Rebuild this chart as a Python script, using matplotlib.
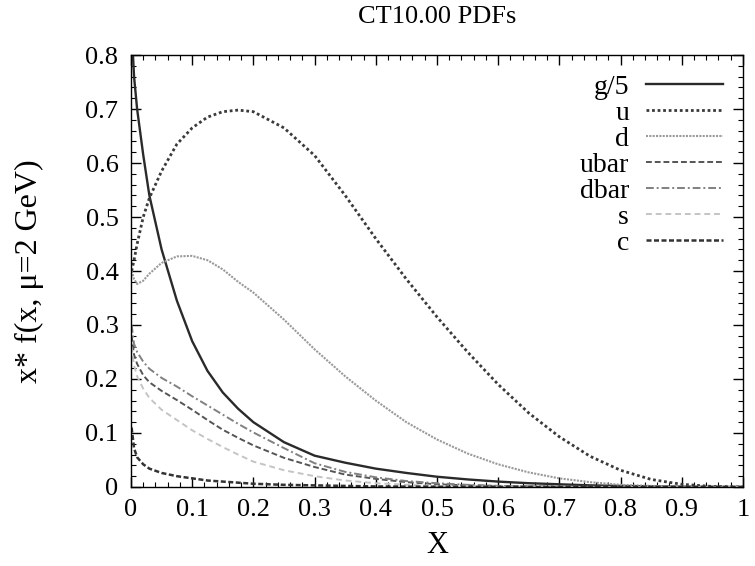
import matplotlib
matplotlib.use("Agg")
import matplotlib.pyplot as plt
from matplotlib.ticker import MultipleLocator

plt.rcParams['font.family'] = ['Liberation Serif', 'DejaVu Serif']

x = [0.001, 0.005, 0.01, 0.02, 0.03, 0.05, 0.075, 0.1, 0.125, 0.15, 0.175, 0.2,
     0.25, 0.3, 0.35, 0.4, 0.45, 0.5, 0.55, 0.6, 0.65, 0.7, 0.75, 0.8, 0.85,
     0.9, 0.95, 1.0]

g5 = [0.85, 0.76, 0.70, 0.615, 0.54, 0.44, 0.345, 0.27, 0.215, 0.175, 0.145, 0.12,
      0.083, 0.058, 0.045, 0.034, 0.026, 0.019, 0.014, 0.010, 0.007, 0.005, 0.003,
      0.002, 0.001, 0.0005, 0.0001, 0.0]
u = [0.40, 0.42, 0.45, 0.50, 0.535, 0.585, 0.635, 0.665, 0.685, 0.695, 0.698, 0.695,
     0.665, 0.614, 0.54, 0.46, 0.385, 0.315, 0.25, 0.19, 0.137, 0.093, 0.057,
     0.031, 0.014, 0.005, 0.001, 0.0]
d = [0.40, 0.385, 0.376, 0.382, 0.395, 0.415, 0.427, 0.428, 0.42, 0.403, 0.38, 0.36,
     0.31, 0.255, 0.205, 0.16, 0.12, 0.088, 0.062, 0.042, 0.027, 0.016, 0.009,
     0.004, 0.002, 0.0005, 0.0001, 0.0]
ubar = [0.28, 0.245, 0.228, 0.207, 0.194, 0.178, 0.161, 0.143, 0.124, 0.106, 0.091, 0.077,
        0.054, 0.037, 0.023, 0.015, 0.009, 0.005, 0.003, 0.002, 0.001, 0.0007, 0.0004,
        0.0002, 0.0001, 0.0, 0.0, 0.0]
dbar = [0.30, 0.265, 0.25, 0.232, 0.219, 0.202, 0.186, 0.168, 0.151, 0.134, 0.117, 0.101,
        0.072, 0.044, 0.028, 0.018, 0.011, 0.007, 0.004, 0.002, 0.0012, 0.0008, 0.0004,
        0.0002, 0.0001, 0.0, 0.0, 0.0]
s = [0.26, 0.225, 0.205, 0.182, 0.165, 0.143, 0.124, 0.105, 0.089, 0.074, 0.060, 0.047,
     0.031, 0.020, 0.012, 0.007, 0.004, 0.002, 0.001, 0.0006, 0.0003, 0.0002, 0.0001,
     0.0, 0.0, 0.0, 0.0, 0.0]
c = [0.11, 0.072, 0.055, 0.042, 0.034, 0.026, 0.020, 0.016, 0.012, 0.010, 0.008, 0.006,
     0.004, 0.003, 0.002, 0.001, 0.0007, 0.0005, 0.0003, 0.0002, 0.0001, 0.0, 0.0,
     0.0, 0.0, 0.0, 0.0, 0.0]

labels = ["g/5", "u", "d", "ubar", "dbar", "s", "c"]
xtick_vals = [0, 0.1, 0.2, 0.3, 0.4, 0.5, 0.6, 0.7, 0.8, 0.9, 1.0]
xtick_labels = ["0", "0.1", "0.2", "0.3", "0.4", "0.5", "0.6", "0.7", "0.8", "0.9", "1"]
ytick_vals = [0, 0.1, 0.2, 0.3, 0.4, 0.5, 0.6, 0.7, 0.8]
ytick_labels = ["0", "0.1", "0.2", "0.3", "0.4", "0.5", "0.6", "0.7", "0.8"]
title = "CT10.00 PDFs"
xlabel = "X"
ylabel = "x* f(x, μ=2 GeV)"

fig = plt.figure(figsize=(7.55, 5.66), dpi=100)
ax = fig.add_axes([0.1735, 0.1396, 0.8105, 0.7632])

styles = [
    dict(color="#2a2a2a", lw=1.7, ls="-"),
    dict(color="#3a3a3a", lw=2.0, ls=(0, (1, 1))),
    dict(color="#9a9a9a", lw=1.5, ls=(0, (1, 0.6))),
    dict(color="#555555", lw=1.4, ls=(0, (3, 1.5))),
    dict(color="#808080", lw=1.4, ls=(0, (4, 1.5, 1, 1.5))),
    dict(color="#c4c4c4", lw=1.4, ls=(0, (3, 2))),
    dict(color="#333333", lw=1.8, ls=(0, (2, 1))),
]
for series, lab, st in zip([g5, u, d, ubar, dbar, s, c], labels, styles):
    ax.plot(x, series, label=lab, **st)

ax.set_xlim(0, 1)
ax.set_ylim(0, 0.8)
ax.set_xticks(xtick_vals)
ax.set_xticklabels(xtick_labels)
ax.set_yticks(ytick_vals)
ax.set_yticklabels(ytick_labels)
ax.xaxis.set_minor_locator(MultipleLocator(0.02))
ax.yaxis.set_minor_locator(MultipleLocator(0.02))
ax.tick_params(which="both", direction="in", top=True, right=True, labelsize=19, pad=9)
ax.tick_params(which="major", length=7, width=1)
ax.tick_params(which="minor", length=3.5, width=0.8)
for sp in ax.spines.values():
    sp.set_linewidth(1.0)

ax.set_title(title, fontsize=19, pad=23)
ax.set_xlabel(xlabel, fontsize=22, labelpad=7)
ax.set_ylabel(ylabel, fontsize=23)
ax.yaxis.set_label_coords(-0.142, 0.5)

ax.legend(loc="upper right", bbox_to_anchor=(1.0, 1.0), frameon=False, markerfirst=False,
          fontsize=20, handlelength=2.8, handletextpad=0.6, labelspacing=0.02,
          borderaxespad=0.4, borderpad=0.3)

fig.savefig("out.png", dpi=100)
